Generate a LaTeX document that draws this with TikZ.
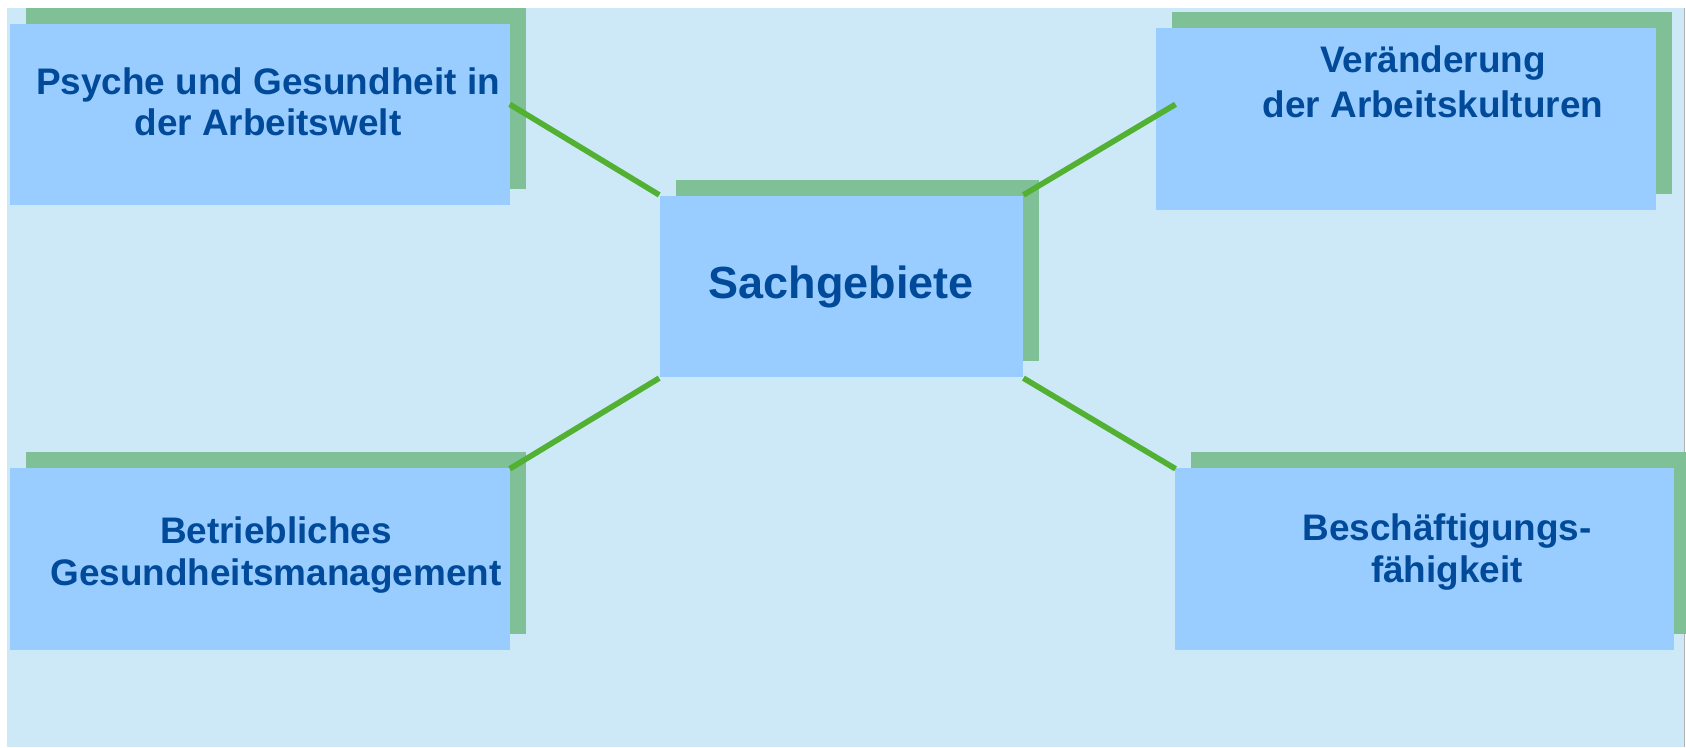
\documentclass[tikz,border=0pt]{standalone}
\usepackage{fontspec}
\setmainfont{Liberation Sans}
\usetikzlibrary{shadows}
\definecolor{bgblue}{RGB}{205,233,247}
\definecolor{boxblue}{RGB}{153,204,255}
\definecolor{shadegreen}{RGB}{128,192,150}
\definecolor{linkgreen}{RGB}{82,176,50}
\definecolor{textblue}{RGB}{0,74,153}

\begin{document}
\begin{tikzpicture}[x=0.01cm, y=-0.01cm,
    topic/.style={rectangle, fill=boxblue, inner sep=0pt, minimum width=5cm, minimum height=1.817cm,
        drop shadow={shadow xshift=0.16cm, shadow yshift=0.16cm, fill=shadegreen, opacity=1}},
    topictext/.style={text=textblue, align=center, font=\bfseries\fontsize{10.5}{11.8}\selectfont},
    link/.style={linkgreen, line width=1.6pt}]
    \useasboundingbox (0,0) rectangle (1686,747);
    \fill [bgblue] (6.5,7.5) rectangle (1684,747);
    \draw [gray!60, line width=0.3pt] (1684,7.5) -- (1684,747);

    %boxes
    \node at (259.7, 114.5) [topic] (psy) {};
    \node at (1406, 118.8) [topic] (ver) {};
    \node at (259.7, 558.6) [topic] (bet) {};
    \node at (1424.5, 558.6) [topic, minimum width=4.99cm] (bes) {};
    \node at (841.3, 286.5) [topic, minimum width=3.626cm, text=textblue,
        font=\bfseries\fontsize{12.8}{14}\selectfont] (sach) {Sachgebiete};

    %texts in the boxes
    \node at (268, 102) [topictext] (psytxt) {Psyche und Gesundheit in\\der Arbeitswelt};
    \node at (1433, 82) [topictext, font=\bfseries\fontsize{10.5}{12.8}\selectfont] (vertxt) {Veränderung\\der Arbeitskulturen};
    \node at (276, 555) [topictext] (bettxt) {Betriebliches\\Gesundheitsmanagement};
    \node at (1447, 552) [topictext] (bestxt) {Beschäftigungs-\\fähigkeit};

    %ends of the links
    \coordinate (psyend) at (509.7, 104.3);
    \coordinate (verend) at (1175.5, 104.3);
    \coordinate (betend) at (509.7, 468.8);
    \coordinate (besend) at (1175.5, 468.8);

    \draw [link] (sach.north west) -- (psyend);
    \draw [link] (sach.north east) -- (verend);
    \draw [link] (sach.south west) -- (betend);
    \draw [link] (sach.south east) -- (besend);
\end{tikzpicture}
\end{document}
